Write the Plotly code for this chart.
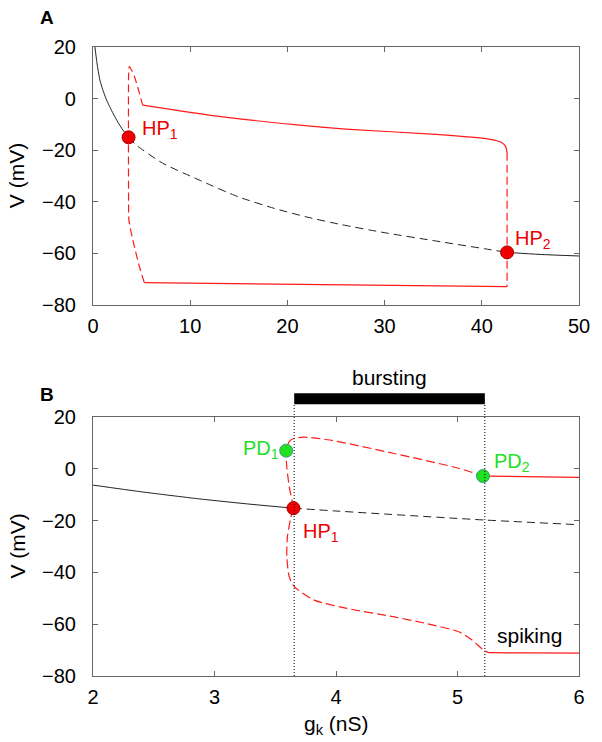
import plotly.graph_objects as go

# ---------------- Panel A data ----------------
a_blk_solid1_g = [0.2, 0.4, 0.71, 1.0, 1.39, 1.8, 2.24, 2.65, 3.08, 3.66]
a_blk_solid1_v = [20, 14, 7.2, 3.5, -0.5, -3.8, -7, -9.7, -12.2, -15]
a_blk_dash_g = [3.66, 4.44, 7.15, 10.9, 14.9, 18.7, 22, 25.5, 30.2, 35.3, 40.3, 42.6]
a_blk_dash_v = [-15, -18, -25, -31.5, -38, -42.6, -45.9, -48.8, -52.1, -55.2, -58.2, -59.6]
a_blk_solid2_g = [42.6, 46, 50]
a_blk_solid2_v = [-59.6, -60.4, -61]

a_red_upper_g = [5.11, 13.2, 21, 26, 35.3, 40.7, 42.0, 42.45, 42.6]
a_red_upper_v = [-2.5, -7, -10.2, -11.8, -13.9, -15.7, -16.9, -18.5, -21]
a_red_right_g = [42.6, 42.6]
a_red_right_v = [-21, -72.9]
a_red_lower_g = [42.6, 26.1, 5.28]
a_red_lower_v = [-72.9, -72.2, -71.3]
a_red_left_g = [5.28, 4.78, 4.1, 3.69, 3.66, 3.66, 3.7, 3.76, 4.27, 4.78, 5.11]
a_red_left_v = [-71.3, -65.2, -54.8, -47, -40, 9, 12, 12.4, 8.5, 2, -2.5]

a_hp_g = [3.66, 42.6]
a_hp_v = [-15, -59.6]

# ---------------- Panel B data ----------------
b_blk_solid_g = [2, 2.4, 2.87, 3.3, 3.65]
b_blk_solid_v = [-6.3, -8.9, -11.6, -13.7, -15.2]
b_blk_dash_g = [3.65, 4.0, 5.23, 6.0]
b_blk_dash_v = [-15.2, -16.3, -19.8, -21.6]

b_red_up_g = [3.65, 3.64, 3.615, 3.595, 3.59, 3.615, 3.656, 3.74, 3.95, 4.47, 5.01, 5.21]
b_red_up_v = [-15.2, -12.7, -6.9, 0.8, 7.0, 10.5, 11.8, 12.2, 11.1, 6.0, 0.2, -2.8]
b_red_up_solid_g = [5.21, 5.55, 6.0]
b_red_up_solid_v = [-2.8, -3.0, -3.3]
b_red_lo_g = [3.65, 3.63, 3.60, 3.595, 3.615, 3.656, 3.82, 4.09, 4.47, 4.75, 5.01, 5.12, 5.22, 5.26]
b_red_lo_v = [-15.2, -18.5, -26.2, -33.9, -41.7, -45.5, -50.7, -53.9, -57.1, -59.8, -62.9, -66.1, -70.2, -71.0]
b_red_lo_solid_g = [5.26, 5.6, 6.0]
b_red_lo_solid_v = [-71.0, -71.1, -71.2]

b_hp_g = [3.65]
b_hp_v = [-15.2]
b_pd_g = [3.59, 5.21]
b_pd_v = [7.0, -2.8]

bursting_range = [3.656, 5.225]

y_ticks = [-80, -60, -40, -20, 0, 20]
a_x_ticks = [0, 10, 20, 30, 40, 50]
b_x_ticks = [2, 3, 4, 5, 6]

RED = "#ff1a1a"
BLK = "#222222"
GREEN = "#22e022"
FONT = "Arial, Liberation Sans, sans-serif"
FS_TICK = 20
FS_LAB = 20
FS_TXT = 21

fig = go.Figure()

def line(x, y, color, dash, xa, ya, width=1.1, shape="spline"):
    fig.add_trace(go.Scatter(x=x, y=y, mode="lines", xaxis=xa, yaxis=ya,
                             line=dict(color=color, width=width, dash=dash, shape=shape,
                                       smoothing=0.6),
                             showlegend=False, hoverinfo="skip"))

# Panel A
line(a_blk_solid1_g, a_blk_solid1_v, BLK, "solid", "x", "y", 1.0)
line(a_blk_dash_g, a_blk_dash_v, BLK, "8px,5px", "x", "y", 1.0)
line(a_blk_solid2_g, a_blk_solid2_v, BLK, "solid", "x", "y", 1.0)
line(a_red_upper_g, a_red_upper_v, RED, "solid", "x", "y", 1.2)
line(a_red_right_g, a_red_right_v, RED, "8px,4px", "x", "y", 1.2, "linear")
line(a_red_lower_g, a_red_lower_v, RED, "solid", "x", "y", 1.2)
line(a_red_left_g, a_red_left_v, RED, "8px,4px", "x", "y", 1.2)
fig.add_trace(go.Scatter(x=a_hp_g, y=a_hp_v, mode="markers", xaxis="x", yaxis="y",
                         marker=dict(color="#ee0000", size=13, line=dict(color="#aa0000", width=1)),
                         showlegend=False, hoverinfo="skip"))

# Panel B
line(b_blk_solid_g, b_blk_solid_v, BLK, "solid", "x2", "y2", 1.0)
line(b_blk_dash_g, b_blk_dash_v, BLK, "8px,5px", "x2", "y2", 1.0)
line(b_red_up_g, b_red_up_v, RED, "9px,4px", "x2", "y2", 1.2)
line(b_red_up_solid_g, b_red_up_solid_v, RED, "solid", "x2", "y2", 1.2)
line(b_red_lo_g, b_red_lo_v, RED, "9px,4px", "x2", "y2", 1.2)
line(b_red_lo_solid_g, b_red_lo_solid_v, RED, "solid", "x2", "y2", 1.2)
fig.add_trace(go.Scatter(x=b_hp_g, y=b_hp_v, mode="markers", xaxis="x2", yaxis="y2",
                         marker=dict(color="#ee0000", size=13, line=dict(color="#aa0000", width=1)),
                         showlegend=False, hoverinfo="skip"))
fig.add_trace(go.Scatter(x=b_pd_g, y=b_pd_v, mode="markers", xaxis="x2", yaxis="y2",
                         marker=dict(color=GREEN, size=13, line=dict(color="#3a9a7a", width=1)),
                         showlegend=False, hoverinfo="skip"))

axis_common = dict(showgrid=False, zeroline=False, showline=True, linecolor="#666666",
                   linewidth=1.2, mirror="ticks", ticks="inside", ticklen=5,
                   tickcolor="#666666", tickwidth=1,
                   tickfont=dict(family=FONT, size=FS_TICK, color="black"))

fig.update_layout(
    width=602, height=742,
    margin=dict(l=93, r=17, t=47, b=66),
    paper_bgcolor="white", plot_bgcolor="white",
    font=dict(family=FONT, size=FS_TICK, color="black"),
    xaxis=dict(domain=[0, 1], anchor="y", range=[0, 50], tickvals=a_x_ticks,
               ticklabelstandoff=3, **axis_common),
    yaxis=dict(domain=[0.5898, 1], anchor="x", range=[-80, 20], tickvals=y_ticks,
               ticklabelstandoff=12, **axis_common),
    xaxis2=dict(domain=[0, 1], anchor="y2", range=[2, 6], tickvals=b_x_ticks,
                ticklabelstandoff=3, **axis_common),
    yaxis2=dict(domain=[0, 0.4118], anchor="x2", range=[-80, 20], tickvals=y_ticks,
                ticklabelstandoff=12, **axis_common),
)

shapes = []
for gx in bursting_range:
    shapes.append(dict(type="line", xref="x2", yref="paper", x0=gx, x1=gx, y0=0, y1=0.432,
                       line=dict(color="black", width=1, dash="1px,2px")))
shapes.append(dict(type="rect", xref="x2", yref="paper", x0=bursting_range[0], x1=bursting_range[1],
                   y0=0.432, y1=0.4494, fillcolor="black", line=dict(width=0)))
fig.update_layout(shapes=shapes)

ann = []
def txt(x, y, s, color="black", xref="x", yref="y", xanchor="left", size=FS_LAB, **kw):
    ann.append(dict(x=x, y=y, xref=xref, yref=yref, text=s, showarrow=False,
                    xanchor=xanchor, yanchor="middle",
                    font=dict(family=FONT, size=size, color=color), **kw))

txt(4.85, -11.8, "HP<sub>1</sub>", "#ee0000", "x", "y")
txt(43.2, -54.5, "HP<sub>2</sub>", "#ee0000", "x", "y")
txt(3.55, 7.5, "PD<sub>1</sub>", GREEN, "x2", "y2", xanchor="right")
txt(5.28, 2.5, "PD<sub>2</sub>", GREEN, "x2", "y2")
txt(3.715, -24.5, "HP<sub>1</sub>", "#ee0000", "x2", "y2")
txt(5.59, -64.2, "spiking", "black", "x2", "y2", xanchor="center", size=FS_TXT)
txt(4.44, 0.475, "bursting", "black", "x2", "paper", xanchor="center", size=FS_TXT)
txt(-0.0945, 1.047, "<b>A</b>", "black", "paper", "paper", xanchor="center", size=19)
txt(-0.0945, 0.4475, "<b>B</b>", "black", "paper", "paper", xanchor="center", size=19)
txt(-0.156, 0.795, "V (mV)", "black", "paper", "paper", xanchor="center", textangle=-90, size=FS_TXT)
txt(-0.156, 0.206, "V (mV)", "black", "paper", "paper", xanchor="center", textangle=-90, size=FS_TXT)
txt(0.5, -0.078, "g<sub>k</sub> (nS)", "black", "paper", "paper", xanchor="center", size=FS_TXT)
fig.update_layout(annotations=ann)

fig.write_html("out.html", config={"displayModeBar": False},
               post_script="document.body.style.margin='0px';document.body.style.padding='0px';")
